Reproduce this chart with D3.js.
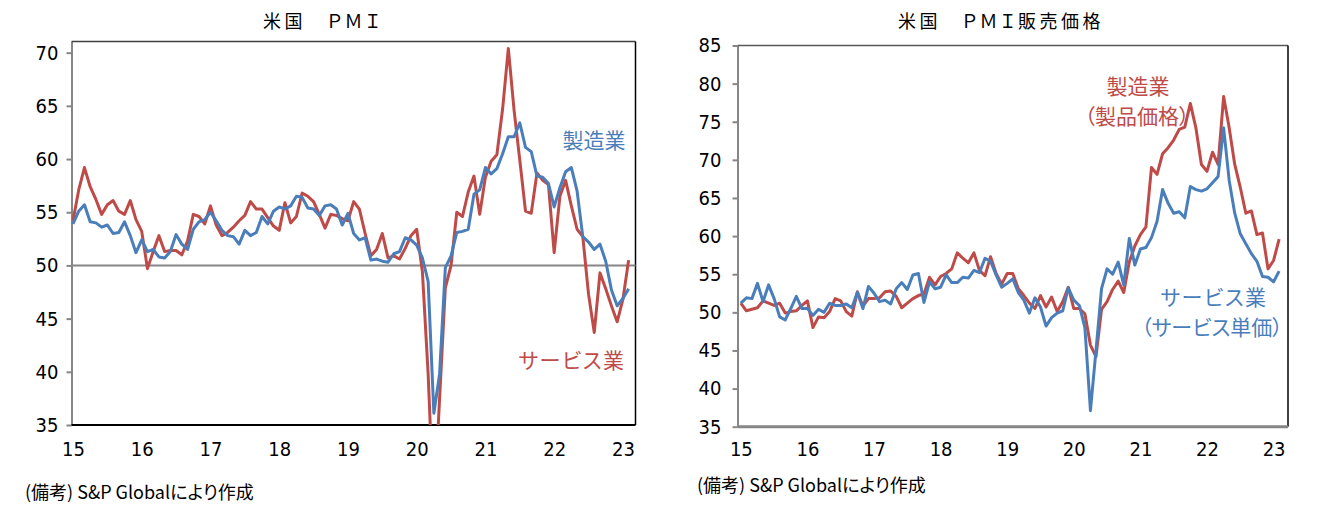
<!DOCTYPE html>
<html>
<head>
<meta charset="utf-8">
<script src="https://cdn.jsdelivr.net/npm/d3@7"></script>
<style>
  body { margin: 0; background: #fff; }
  text { font-feature-settings: "palt"; }
</style>
</head>
<body>
<div id="chart"></div>
<script>
// monthly data, Jan 2015 - Feb 2023
const yearLabels = ["15", "16", "17", "18", "19", "20", "21", "22", "23"];
const yearTicks = [0, 12, 24, 36, 48, 60, 72, 84, 96];

// left panel: PMI
const mfgPmi = [
  53.9,55.1,55.7,54.1,54.0,53.6,53.8,53.0,53.1,54.1,52.8,51.2,
  52.4,51.3,51.5,50.8,50.7,51.3,52.9,52.0,51.5,53.4,54.1,54.3,
  55.0,54.2,53.3,52.8,52.7,52.0,53.3,52.8,53.1,54.6,53.9,55.1,
  55.5,55.3,55.6,56.5,56.4,55.4,55.3,54.7,55.6,55.7,55.3,53.8,
  54.9,53.0,52.4,52.6,50.5,50.6,50.4,50.3,51.1,51.3,52.6,52.4,
  51.9,50.7,48.5,36.1,39.8,49.8,50.9,53.1,53.2,53.4,56.7,57.1,
  59.2,58.6,59.1,60.5,62.1,62.1,63.4,61.1,60.7,58.4,58.3,57.7,
  55.5,57.3,58.8,59.2,57.0,52.7,52.2,51.5,52.0,50.4,47.7,46.2,
  46.9,47.8
];
const svcPmi = [
  54.2,57.1,59.2,57.4,56.2,54.8,55.7,56.1,55.1,54.8,56.1,54.3,
  53.2,49.7,51.3,52.8,51.3,51.4,51.4,51.0,52.3,54.8,54.6,53.9,
  55.6,53.8,52.8,53.1,53.6,54.2,54.7,56.0,55.3,55.3,54.5,53.7,
  53.3,55.9,54.0,54.6,56.8,56.5,56.0,54.8,53.5,54.8,54.7,54.4,
  54.2,56.0,55.3,53.0,50.9,51.5,53.0,50.7,50.9,50.6,51.6,52.8,
  53.4,49.4,39.8,26.7,37.5,47.9,50.0,55.0,54.6,56.9,58.4,54.8,
  58.3,59.8,60.4,64.7,70.4,64.6,59.9,55.1,54.9,58.7,58.0,57.6,
  51.2,56.5,58.0,55.6,53.4,52.7,47.3,43.7,49.3,47.8,46.2,44.7,
  46.8,50.5
];

// right panel: output prices
const mfgPrice = [
  51.2,50.2,50.4,50.6,51.5,51.2,50.9,51.2,49.9,50.1,50.2,50.9,
  51.5,48.0,49.4,49.3,50.1,51.8,51.5,50.1,49.5,52.7,50.8,51.8,
  51.8,51.9,52.7,52.8,52.1,50.6,51.2,51.8,52.2,52.4,54.6,53.6,
  54.7,55.1,55.7,57.8,57.1,56.5,57.8,55.5,54.8,57.3,55.1,53.7,
  55.1,55.1,53.1,52.2,51.2,50.5,52.2,50.7,52.0,50.1,51.4,53.3,
  50.5,50.5,49.8,45.7,44.2,50.4,51.4,53.0,54.1,52.6,56.6,58.7,
  60.2,61.2,69.0,68.1,70.8,71.6,72.6,74.0,74.3,77.4,74.2,69.4,
  68.5,71.0,69.4,78.3,74.2,69.4,66.4,63.0,63.3,60.2,60.4,55.7,
  56.8,59.6
];
const svcPrice = [
  51.2,51.9,51.8,53.8,51.4,53.6,51.8,49.4,49.0,50.5,52.1,50.5,
  50.5,49.6,50.4,50.0,51.2,50.9,50.9,51.1,50.6,52.6,50.5,53.4,
  52.5,51.4,51.6,51.1,53.1,53.9,53.0,54.9,55.1,51.3,54.0,53.1,
  53.3,54.9,53.9,53.9,54.6,54.5,55.5,55.2,57.1,56.7,54.9,53.3,
  53.8,54.4,52.6,51.6,49.9,51.9,50.7,48.2,49.3,49.9,50.2,53.2,
  51.6,50.9,48.0,37.1,45.0,53.1,55.7,55.0,56.6,53.6,59.7,56.2,
  58.3,58.5,59.8,61.9,66.1,64.3,63.0,63.2,62.4,66.5,66.1,65.9,
  66.2,67.0,67.8,74.2,67.3,63.0,60.3,59.0,57.7,56.7,54.7,54.6,
  54.0,55.4
];

const blue = "#4A7EBB", red = "#BE4B48", axisGray = "#868686";
const numFont = '"Liberation Sans Narrow", "DejaVu Sans Condensed", sans-serif';
const jpFont = '"Liberation Sans Narrow", "Noto Sans CJK JP", sans-serif';
const cjkFont = '"Noto Sans CJK JP", sans-serif';

const svg = d3.select("#chart").append("svg")
  .attr("width", 1317).attr("height", 523);

function drawPanel(p) {
  const g = svg.append("g");
  const x = d3.scaleLinear().domain(p.xDomain).range([p.left, p.right]);
  const y = d3.scaleLinear().domain(p.yDomain).range([p.bottom, p.top]);

  // title
  g.append("text")
    .attr("x", p.titleX).attr("y", 28)
    .attr("text-anchor", "middle")
    .style("font-family", cjkFont).style("font-size", "18px")
    .style("letter-spacing", "3.5px")
    .text(p.title);

  // clip for the lines
  g.append("clipPath").attr("id", p.id + "_clip")
    .append("rect")
      .attr("x", p.left).attr("y", p.top)
      .attr("width", p.right - p.left).attr("height", p.bottom - p.top);

  // y axis
  const yAxis = g.append("g")
    .attr("transform", `translate(${p.left},0)`)
    .call(d3.axisLeft(y).tickValues(p.yTicks).tickSize(5).tickSizeOuter(0).tickPadding(p.yPad));
  yAxis.select(".domain").attr("stroke", axisGray).attr("stroke-width", 2);
  yAxis.selectAll(".tick line").attr("stroke", axisGray).attr("stroke-width", 2);
  yAxis.selectAll("text")
    .style("font-family", numFont).style("font-size", "20px").attr("fill", "#000");

  // x axis labels (years)
  const xAxis = g.append("g")
    .attr("transform", `translate(0,${p.bottom})`)
    .call(d3.axisBottom(x).tickValues(yearTicks).tickSize(0).tickPadding(p.xPad)
      .tickFormat((d, i) => yearLabels[i]));
  xAxis.select(".domain").remove();
  xAxis.selectAll("text")
    .style("font-family", numFont).style("font-size", "20px").attr("fill", "#000");

  // frame: top, right, bottom
  g.append("line").attr("x1", p.left).attr("x2", p.right).attr("y1", p.top).attr("y2", p.top)
    .attr("stroke", p.topColor).attr("stroke-width", 1.5);
  g.append("line").attr("x1", p.right).attr("x2", p.right).attr("y1", p.top).attr("y2", p.bottom)
    .attr("stroke", "#000").attr("stroke-width", 1.5);
  g.append("line").attr("x1", p.left).attr("x2", p.right).attr("y1", p.bottom).attr("y2", p.bottom)
    .attr("stroke", p.bottomColor).attr("stroke-width", p.bottomWidth);

  // reference line
  if (p.refLine != null) {
    g.append("line")
      .attr("x1", p.left).attr("x2", p.right)
      .attr("y1", y(p.refLine)).attr("y2", y(p.refLine))
      .attr("stroke", axisGray).attr("stroke-width", 2);
  }

  const line = d3.line().x((d, i) => x(i)).y(d => y(d));
  p.series.forEach(s => {
    g.append("path")
      .datum(s.values)
      .attr("clip-path", `url(#${p.id}_clip)`)
      .attr("fill", "none")
      .attr("stroke", s.color)
      .attr("stroke-width", 3)
      .attr("stroke-linejoin", "round")
      .attr("d", line);
  });

  // series labels
  p.labels.forEach(l => {
    g.append("text")
      .attr("x", l.x).attr("y", l.y)
      .attr("text-anchor", "middle")
      .style("font-family", cjkFont).style("font-size", "21px")
      .style("letter-spacing", l.ls || "0px")
      .attr("fill", l.color)
      .text(l.text);
  });

  // source note
  g.append("text")
    .attr("x", p.noteX).attr("y", p.noteY)
    .style("font-family", jpFont).style("font-size", "18px")
    .text("(備考) S&P Globalにより作成");
}

drawPanel({
  id: "pmi",
  title: "米国　ＰＭＩ", titleX: 323,
  left: 71.5, right: 635.5, top: 41.5, bottom: 425,
  xDomain: [-0.26, 98.2], yDomain: [35, 71.05],
  yTicks: d3.range(35, 71, 5), yPad: 8, xPad: 17,
  topColor: "#404040", bottomColor: "#000", bottomWidth: 2,
  refLine: 50,
  series: [{values: svcPmi, color: red}, {values: mfgPmi, color: blue}],
  labels: [
    {text: "製造業", x: 594, y: 148, color: blue},
    {text: "サービス業", x: 572, y: 368, color: red, ls: "1.5px"}
  ],
  noteX: 25, noteY: 499
});

drawPanel({
  id: "price",
  title: "米国　ＰＭＩ販売価格", titleX: 1001,
  left: 737.5, right: 1288, top: 45.5, bottom: 426.7,
  xDomain: [-0.6, 98.6], yDomain: [35, 85],
  yTicks: d3.range(35, 86, 5), yPad: 11, xPad: 15,
  topColor: "#595959", bottomColor: axisGray, bottomWidth: 3,
  refLine: null,
  series: [{values: mfgPrice, color: red}, {values: svcPrice, color: blue}],
  labels: [
    {text: "製造業", x: 1138, y: 94, color: red},
    {text: "（製品価格）", x: 1137, y: 124, color: red},
    {text: "サービス業", x: 1214, y: 305, color: blue, ls: "1.5px"},
    {text: "（サービス単価）", x: 1212, y: 335, color: blue}
  ],
  noteX: 697, noteY: 492
});
</script>
</body>
</html>
